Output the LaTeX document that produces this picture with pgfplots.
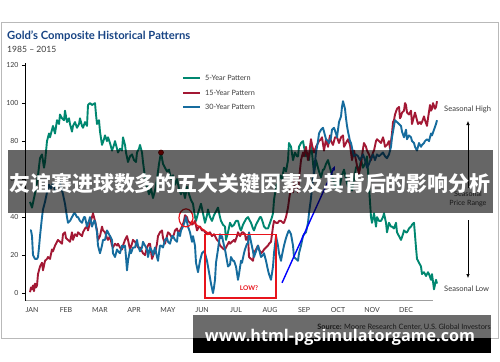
\documentclass[border=0pt]{standalone}
\usepackage{pgfplots}
\pgfplotsset{compat=1.18}
\usepackage{fontspec}
\setmainfont{Lato}
\newfontfamily\cjk{Noto Sans CJK SC}
\newfontfamily\wmfont{Open Sans}
\usetikzlibrary{arrows.meta}
\definecolor{cgreen}{RGB}{0,135,112}
\definecolor{cred}{RGB}{163,24,52}
\definecolor{cblue}{RGB}{22,108,158}
\definecolor{ctitle}{RGB}{24,68,132}
\definecolor{ctext}{RGB}{60,60,60}
\definecolor{annred}{RGB}{232,20,28}
\begin{document}
\begin{tikzpicture}
\useasboundingbox (0,0) rectangle (500bp,-362bp);
\fill[white] (0,0) rectangle (500bp,-362bp);
\begin{scope}[x=1bp,y=-1bp]
\draw[gray!55, line width=0.9bp] (1,22) rectangle (498.5,338);
\node[anchor=base west, font=\bfseries\fontsize{11.3}{12}\selectfont, text=ctitle, inner sep=0] at (7,39) {Gold’s Composite Historical Patterns};
\node[anchor=base west, font=\fontsize{8.6}{9}\selectfont, text=ctext, inner sep=0] at (7,52) {1985 -- 2015};
\end{scope}
\begin{axis}[at={(25bp,-300.7bp)}, anchor=south west, scale only axis,
  width=408bp, height=237.5bp, xmin=25, xmax=433, ymin=-4, ymax=121, clip=false,
  axis x line*=bottom, axis y line*=left,
  x axis line style={draw=gray!75, line width=1.3bp, -},
  y axis line style={draw=black, line width=0.6bp, -},
  xtick={32,66,...,406},
  xticklabels={JAN,FEB,MAR,APR,MAY,JUN,JUL,AUG,SEP,OCT,NOV,DEC},
  ytick={0,20,...,120},
  xtick style={draw=none}, ytick style={black, line width=0.5bp},
  tick align=outside, major tick length=3bp,
  tick label style={font=\fontsize{7}{8}\selectfont, text=ctext},
  /pgf/number format/assume math mode=true,
  every axis plot/.append style={line width=1.9bp, line join=round}]
\addplot[cgreen] coordinates {(30,48) (32,45) (34,50) (36,55) (38,62) (40,71) (42,73) (44,66) (45,69) (47,80) (49,84) (50,82) (52,86) (53,88) (55,84) (57,91) (59,89) (60,94) (62,92) (64,91) (65,96) (67,90) (69,92) (70,89) (72,85) (73,88) (75,90) (77,87) (79,89) (80,92) (82,88) (83,87) (85,90) (87,88) (88,99) (90,100) (92,99) (95,100) (96,94) (97,89) (99,91) (100,85) (102,78) (104,81) (105,83) (107,80) (108,82) (110,79) (112,75) (114,78) (115,80) (117,76) (118,74) (120,76) (122,75) (123,82) (125,78) (126,74) (128,69) (130,72) (132,73) (134,70) (136,69) (137,74) (139,76) (140,78) (142,74) (143,69) (145,61) (147,56) (149,52) (151,55) (153,50) (155,54) (157,60) (159,68) (161,74) (163,68) (165,66) (167,64) (169,65) (171,60) (173,62) (175,57) (177,60) (179,55) (181,52) (183,55) (185,50) (187,56) (189,52) (191,49) (193,47) (195,40) (196,38) (198,42) (201,47) (203,42) (205,37) (207,41) (208,44) (210,40) (212,38) (214,41) (216,43) (218,45) (220,40) (221,38) (223,36) (225,35) (226,28) (228,32) (230,37) (232,35) (234,36) (236,38) (238,38) (240,34) (241,33) (243,36) (244,37) (246,39) (248,40) (250,38) (251,37) (253,34) (254,33) (256,36) (258,38) (260,40) (261,40) (263,37) (264,35) (266,34) (268,34) (270,37) (272,40) (273,42) (274,49) (276,56) (278,58) (280,62) (282,60) (284,66) (286,64) (288,70) (289,79) (291,77) (293,70) (295,74) (297,72) (298,72) (299,77) (301,79) (303,80) (304,77) (306,72) (307,74) (309,70) (311,79) (312,74) (314,63) (316,70) (318,66) (319,64) (321,61) (323,65) (324,65) (326,68) (328,70) (330,66) (332,62) (334,58) (336,55) (338,60) (340,57) (342,62) (344,65) (346,60) (348,56) (350,58) (352,54) (354,60) (356,66) (357,67) (359,64) (361,70) (363,66) (365,68) (367,72) (369,56) (371,40) (372,37) (374,42) (376,35) (377,40) (379,38) (381,38) (383,40) (384,42) (386,37) (387,32) (389,37) (391,35) (392,35) (394,34) (396,37) (397,32) (399,30) (401,28) (403,31) (404,33) (406,32) (407,32) (409,34) (411,35) (412,36) (414,37) (416,24) (417,18) (419,16) (421,14) (422,10) (424,11) (426,9) (428,11) (429,10) (431,7) (432,10) (434,2) (436,7) (437,5)};
\addplot[cred] coordinates {(30,0.5) (31,3) (32,2) (33,4) (34,1) (35,5) (36,3) (37,4) (38,10) (40,14) (42,16) (43,12) (45,17) (47,18) (48,19) (50,18) (52,23) (53,22) (55,25) (57,27) (58,28) (60,27) (62,26) (63,31) (65,32) (66,29) (68,28) (70,27) (72,32) (73,28) (75,31) (77,30) (78,32) (80,31) (82,30) (83,32) (85,34) (87,35) (88,33) (90,37) (92,40) (93,42) (95,38) (97,33) (98,28) (100,30) (102,35) (103,33) (105,32) (107,29) (108,28) (110,30) (112,25) (113,24) (115,26) (117,25) (118,26) (120,24) (122,23) (123,25) (125,28) (127,30) (128,28) (130,23) (132,26) (133,28) (135,27) (137,25) (138,24) (140,24) (142,22) (143,21) (145,20) (147,24) (149,26) (150,26) (152,18) (154,21) (155,21) (157,26) (158,30) (160,32) (162,33) (163,29) (165,26) (167,30) (168,32) (170,31) (172,29) (174,31) (175,33) (177,34) (178,32) (180,33) (182,35) (184,38) (185,41) (187,40) (188,38) (190,37) (192,36) (194,37) (195,38) (197,33) (199,35) (200,35) (202,33) (204,33) (205,32) (207,31) (208,31) (210,32) (212,30) (214,31) (215,30) (217,28) (219,27) (220,25) (222,24) (224,23) (225,23) (227,25) (229,27) (230,26) (232,27) (234,28) (235,27) (237,30) (238,32) (240,30) (242,32) (243,32) (245,31) (246,28) (248,30) (249,19) (251,18) (253,17) (254,21) (256,23) (258,25) (259,23) (261,21) (263,22) (264,23) (266,24) (268,25) (269,26) (271,27) (273,35) (274,38) (276,37) (278,37) (279,38) (281,38) (283,37) (284,37) (286,40) (288,45) (289,49) (291,56) (293,53) (294,60) (296,56) (298,53) (299,60) (301,70) (303,74) (304,72) (306,77) (308,70) (309,73) (311,81) (312,78) (314,74) (316,77) (318,79) (319,80) (321,81) (322,82) (324,75) (326,81) (327,79) (328,77) (330,83) (331,80) (333,78) (335,82) (337,82) (339,79) (341,82) (343,83) (344,77) (346,79) (348,81) (350,78) (351,74) (352,70) (354,75) (356,70) (357,67) (359,63) (361,68) (363,76) (364,79) (366,77) (367,75) (369,73) (371,70) (373,74) (374,75) (376,80) (377,81) (379,80) (381,79) (383,82) (384,80) (385,77) (387,78) (389,80) (390,76) (392,84) (393,90) (394,91) (395,94) (397,97) (399,98) (400,92) (401,93) (402,95) (404,96) (405,100) (406,99) (407,95) (409,94) (411,96) (412,89) (414,93) (415,95) (417,91) (418,89) (420,90) (421,89) (422,90) (424,93) (425,91) (427,88) (428,92) (430,99) (431,96) (432,97) (433,100) (435,97) (436,98) (437,101)};
\addplot[cblue] coordinates {(30,33) (31,33) (32,30) (33,20) (35,18) (37,18) (38,19) (39,24) (40,30) (42,40) (43,44) (45,48) (47,53) (49,57) (51,55) (53,58) (55,54) (57,57) (59,60) (61,56) (63,52) (65,47) (67,40) (68,37) (70,38) (72,40) (74,42) (75,42) (77,40) (78,40) (80,38) (82,37) (84,40) (85,40) (87,35) (89,38) (90,40) (92,35) (94,38) (95,38) (97,32) (98,25) (100,21) (102,25) (103,28) (105,28) (107,33) (108,32) (110,30) (112,28) (113,21) (115,19) (117,23) (118,22) (120,21) (122,25) (123,24) (125,25) (126,19) (127,12) (128,17) (130,23) (131,21) (133,24) (135,24) (137,28) (138,25) (140,22) (142,24) (143,27) (145,25) (147,23) (148,19) (150,24) (152,22) (153,20) (155,24) (157,19) (158,17) (160,25) (161,25) (163,24) (165,28) (167,29) (168,27) (170,26) (172,30) (173,30) (175,28) (177,27) (178,32) (180,30) (181,33) (183,35) (185,38) (186,40) (188,35) (190,32) (192,27) (193,30) (195,25) (196,16) (198,11) (200,17) (202,21) (204,22) (205,21) (207,17) (208,14) (210,8) (211,5) (213,0) (214,3) (215,7) (216,16) (218,23) (220,31) (221,29) (222,30) (224,25) (225,23) (227,17) (228,14) (230,15) (231,19) (233,17) (234,17) (236,14) (238,7) (239,10) (241,17) (242,16) (244,21) (245,23) (247,26) (248,26) (249,32) (251,27) (253,22) (254,19) (256,22) (258,25) (259,23) (261,19) (263,20) (264,21) (266,17) (268,12) (269,10) (271,7) (273,14) (274,21) (276,30) (278,25) (279,21) (281,17) (282,20) (284,25) (286,29) (288,32) (289,33) (291,31) (293,25) (294,19) (296,18) (298,17) (299,21) (301,25) (303,30) (304,31) (306,32) (308,37) (309,42) (311,50) (312,56) (314,64) (316,74) (318,80) (319,84) (321,86) (323,87) (325,83) (326,81) (328,80) (329,79) (331,82) (332,86) (334,87) (336,84) (337,82) (339,90) (341,93) (342,98) (343,101) (345,97) (346,92) (347,88) (348,85) (350,80) (351,79) (353,74) (354,72) (356,73) (358,72) (360,70) (362,72) (363,73) (365,70) (367,66) (369,68) (371,71) (373,73) (375,70) (377,73) (379,72) (381,73) (383,74) (385,72) (387,71) (389,73) (391,77) (392,82) (394,88) (395,91) (397,90) (399,89) (401,88) (402,85) (404,82) (406,86) (407,81) (409,83) (411,82) (412,80) (414,79) (415,77) (417,75) (419,79) (421,77) (422,78) (424,79) (425,80) (427,81) (429,80) (431,84) (432,83) (434,86) (436,89) (437,91)};
\addplot[only marks, mark=*, mark size=2.5bp, mark options={fill=red!85!black, draw=red!45!black, line width=0.6bp}] coordinates {(161,74)};
\draw[annred, line width=1.2bp] (axis cs:186,39.6) ellipse [x radius=7bp, y radius=9bp];
\draw[annred, line width=1.2bp, -{Stealth[length=4bp]}] (axis cs:191,38) -- (axis cs:211,30.5);
\draw[annred, line width=1.4bp] (axis cs:205,30.7) rectangle (axis cs:276,-2.5);
\node[text=annred, font=\bfseries\fontsize{6.5}{7}\selectfont] at (axis cs:249,2.8) {LOW?};
\draw[blue, line width=1.4bp, -{Stealth[length=5bp]}] (axis cs:282,5.4) -- (axis cs:335,67);
\end{axis}
\begin{scope}[x=1bp,y=-1bp]
% legend
\draw[cgreen, line width=1.9bp] (183,78.3) -- (200,78.3);
\draw[cred, line width=1.9bp] (183,92.7) -- (200,92.7);
\draw[cblue, line width=1.9bp] (183,107.3) -- (200,107.3);
\begin{scope}[every node/.style={anchor=west, inner sep=0, text=ctext, font=\fontsize{7.3}{8}\selectfont}]
\node at (205,78.3) {5-Year Pattern};
\node at (205,92.7) {15-Year Pattern};
\node at (205,107.3) {30-Year Pattern};
\end{scope}
\begin{scope}[every node/.style={anchor=west, inner sep=0, text=ctext, font=\fontsize{7.6}{8}\selectfont}]
\node at (444,109) {Seasonal High};
\node at (444,289) {Seasonal Low};
\end{scope}
\draw[black, line width=0.6bp, -{Latex[length=4bp,width=3.5bp]}] (468,188) -- (468,121);
\draw[black, line width=0.6bp, -{Latex[length=4bp,width=3.5bp]}] (468,220) -- (468,278);
\node[align=center, text=ctext, font=\fontsize{7.2}{8.5}\selectfont, inner sep=0] at (468,199) {Seasonal\\Price Range};
\node[anchor=east, inner sep=0, text=ctext, font=\fontsize{7.4}{8}\selectfont] at (491,327) {\textbf{Source:} Moore Research Center, U.S. Global Investors};
% overlays
\fill[black, opacity=0.6] (8,150) rectangle (492.5,213);
\node[text=white, font=\cjk\bfseries\fontsize{21}{21}\selectfont, inner sep=0] at (250,184) {友谊赛进球数多的五大关键因素及其背后的影响分析};
\fill[black, opacity=0.58] (193,315) rectangle (491,338);
\fill[black] (193,338) rectangle (491,352.5);
\node[text=white, inner sep=0, anchor=base] at (340,342) {\resizebox{270bp}{!}{\wmfont\bfseries www.html-pgsimulatorgame.com}};
\end{scope}
\end{tikzpicture}
\end{document}
